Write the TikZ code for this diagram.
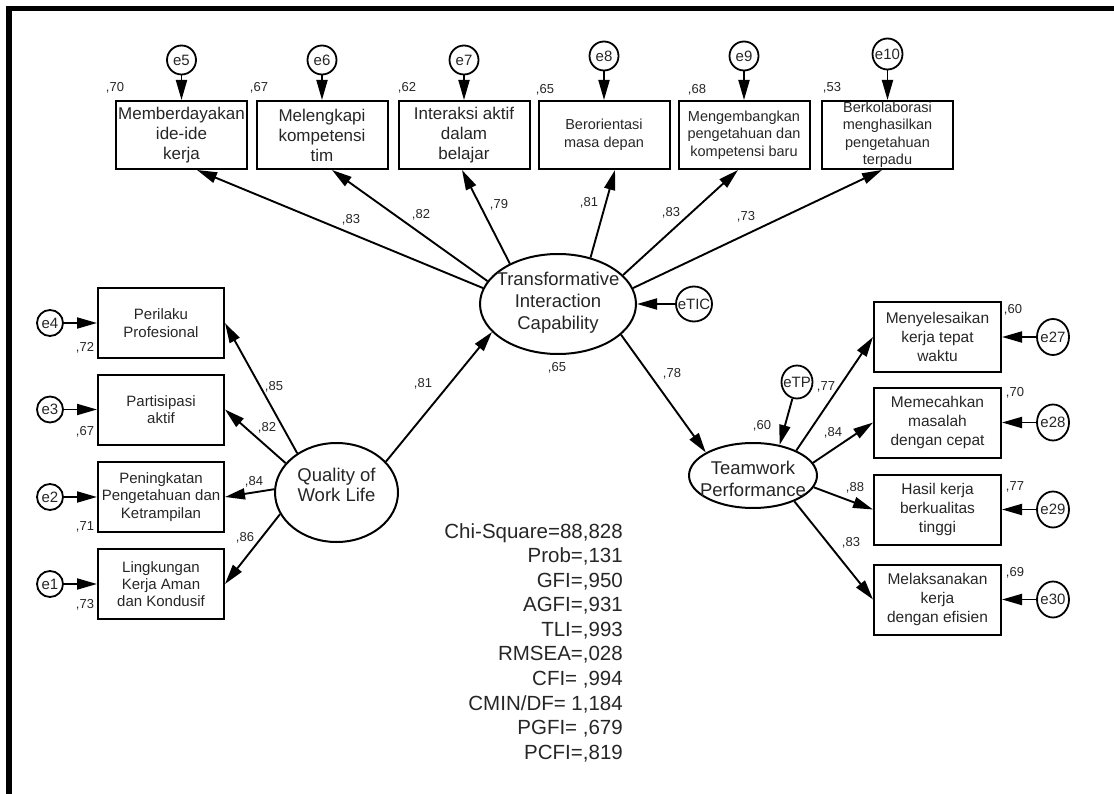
\documentclass[tikz,border=0pt]{standalone}
\usepackage{fontspec}
\setmainfont{Liberation Sans}
\usetikzlibrary{shapes.geometric,arrows.meta}
\definecolor{txt}{HTML}{262626}
\newcommand{\zbox}[1]{\makebox[0pt]{#1}}
\begin{document}
\begin{tikzpicture}[x=1pt,y=-1pt,
  every node/.style={text=txt},
  obs/.style={draw=black, line width=2pt, rectangle, inner sep=0pt, align=center},
  topbox/.style={obs, minimum width=131pt, minimum height=68pt, font=\fontsize{17}{20}\selectfont},
  topboxs/.style={obs, minimum width=131pt, minimum height=68pt, font=\fontsize{14.5}{17.5}\selectfont},
  leftbox/.style={obs, minimum width=126pt, minimum height=70pt, font=\fontsize{15}{17.3}\selectfont},
  rightbox/.style={obs, minimum width=127pt, minimum height=70pt, font=\fontsize{15.5}{19}\selectfont},
  err/.style={ellipse, draw=black, line width=1.8pt, inner sep=0pt, font=\fontsize{15}{17}\selectfont},
  lat/.style={ellipse, draw=black, line width=2pt, inner sep=0pt},
  lattxt/.style={align=center, inner sep=0pt, font=\fontsize{18.5}{22}\selectfont},
  coef/.style={inner sep=0pt, font=\fontsize{13}{15}\selectfont},
  arr/.style={draw=black, line width=1.9pt, -{Triangle[length=20pt,width=11pt]}},
]
\useasboundingbox (0,0) rectangle (1114,794);
% frame
\draw[line width=5.5pt, line join=miter] (9,794) -- (9,8.5) -- (1114,8.5);

% top indicators
\node[topbox]  (B1) at (181.5,135) {Memberdayakan\\ide-ide\\kerja};
\node[topbox]  (B2) at (322,135) {Melengkapi\\kompetensi\\tim};
\node[topbox]  (B3) at (464,135) {Interaksi aktif\\dalam\\belajar};
\node[topboxs] (B4) at (604,135) {Berorientasi\\masa depan};
\node[topboxs] (B5) at (744,135) {Mengembangkan\\pengetahuan dan\\kompetensi baru};
\node[topboxs] (B6) at (887.5,135) {Berkolaborasi\\menghasilkan\\pengetahuan\\terpadu};

\node[err, minimum width=29pt, minimum height=29pt] (e5) at (181.5,60) {\zbox{e5}};
\node[err, minimum width=29pt, minimum height=29pt] (e6) at (322,60) {\zbox{e6}};
\node[err, minimum width=29pt, minimum height=29pt] (e7) at (464,60) {\zbox{e7}};
\node[err, minimum width=29pt, minimum height=29pt] (e8) at (604,56) {\zbox{e8}};
\node[err, minimum width=29pt, minimum height=29pt] (e9) at (744,56) {\zbox{e9}};
\node[err, minimum width=30pt, minimum height=31pt] (e10) at (887.5,54) {\zbox{e10}};
\foreach \e/\b in {e5/B1,e6/B2,e7/B3,e8/B4,e9/B5,e10/B6}
  \draw[arr] (\e) -- (\b.north);

\node[coef] (r5) at (115,88) {,70};
\node[coef] (r6) at (259,88) {,67};
\node[coef] (r7) at (407,88) {,62};
\node[coef] (r8) at (545,90) {,65};
\node[coef] (r9) at (697,90) {,68};
\node[coef] (r10) at (832,88) {,53};

% TIC
\node[lat, minimum width=156pt, minimum height=100pt] (TIC) at (558,304) {};
\node[lattxt] (TICt) at (558,303) {Transformative\\Interaction\\Capability};
\node[err, minimum width=36pt, minimum height=35pt] (eTIC) at (694,304) {\zbox{eTIC}};
\draw[arr] (eTIC) -- (TIC.east);

\draw[arr] (TIC.168)   -- ([xshift=15.5pt]B1.south);
\draw[arr] (TIC.162)   -- ([xshift=10pt]B2.south);
\draw[arr] (TIC.140.5) -- ([xshift=-2pt]B3.south);
\draw[arr] (TIC.55)    -- ([xshift=11pt]B4.south);
\draw[arr] (TIC.24)    -- ([xshift=-6pt]B5.south);
\draw[arr] (TIC.12.5)  -- ([xshift=-5.5pt]B6.south);

\node[coef] (l1) at (351,219.5) {,83};
\node[coef] (l2) at (421,215) {,82};
\node[coef] (l3) at (499,205) {,79};
\node[coef] (l4) at (589,203) {,81};
\node[coef] (l5) at (671,213) {,83};
\node[coef] (l6) at (746,217) {,73};
\node[coef] (rTIC) at (557,368) {,65};

% QWL
\node[lat, minimum width=123pt, minimum height=99pt] (QWL) at (336.5,492.5) {};
\node[lattxt, font=\fontsize{18.5}{20.5}\selectfont] (QWLt) at (336.5,485) {Quality of\\Work Life};

\node[leftbox] (P1) at (161,323) {Perilaku\\Profesional};
\node[leftbox] (P2) at (161,409.5) {Partisipasi\\aktif};
\node[leftbox] (P3) at (161,497) {Peningkatan\\Pengetahuan dan\\Ketrampilan};
\node[leftbox] (P4) at (161,584) {Lingkungan\\Kerja Aman\\dan Kondusif};

\node[err, minimum width=26pt, minimum height=26pt] (e4) at (50,323) {\zbox{e4}};
\node[err, minimum width=26pt, minimum height=26pt] (e3) at (50,409.5) {\zbox{e3}};
\node[err, minimum width=26pt, minimum height=26pt] (e2) at (50,497) {\zbox{e2}};
\node[err, minimum width=26pt, minimum height=26pt] (e1) at (50,584) {\zbox{e1}};
\foreach \e/\b in {e4/P1,e3/P2,e2/P3,e1/P4}
  \draw[arr] (\e) -- (\b.west);

\node[coef] (r4) at (85,348) {,72};
\node[coef] (r3) at (85,432) {,67};
\node[coef] (r2) at (85,527) {,71};
\node[coef] (r1) at (85,605) {,73};

\draw[arr] (QWL.135.7) -- (P1.east);
\draw[arr] (QWL.150)   -- (P2.east);
\draw[arr] (QWL.177)   -- (P3.east);
\draw[arr] (QWL.201.5) -- (P4.east);
\draw[arr] (QWL.32.8)  -- (TIC.203);

\node[coef] (q1) at (274,387) {,85};
\node[coef] (q2) at (267,428) {,82};
\node[coef] (q3) at (254,482) {,84};
\node[coef] (q4) at (245,538) {,86};
\node[coef] (q5) at (423,384) {,81};

% TP
\node[lat, minimum width=128pt, minimum height=65pt] (TP) at (753,475.5) {};
\node[lattxt, font=\fontsize{18.5}{21.5}\selectfont] (TPt) at (753,479) {Teamwork\\Performance};
\node[err, minimum width=31pt, minimum height=33pt] (eTP) at (797,382) {\zbox{eTP}};
\draw[arr] (eTP) -- (TP.49);
\draw[arr] (TIC.334) -- (TP.154);
\node[coef] (t78) at (672,374) {,78};
\node[coef] (rTP) at (762,426) {,60};

\node[rightbox] (R1) at (937.5,337) {Menyelesaikan\\kerja tepat\\waktu};
\node[rightbox] (R2) at (937.5,422.5) {Memecahkan\\masalah\\dengan cepat};
\node[rightbox] (R3) at (937.5,509.5) {Hasil kerja\\berkualitas\\tinggi};
\node[rightbox] (R4) at (937.5,599.5) {Melaksanakan\\kerja\\dengan efisien};

\draw[arr] (TP.30)  -- (R1.west);
\draw[arr] (TP.12.7) -- (R2.west);
\draw[arr] (TP.349) -- (R3.west);
\draw[arr] (TP.328) -- (R4.west);

\node[coef] (p1) at (826,387) {,77};
\node[coef] (p2) at (833,433) {,84};
\node[coef] (p3) at (855,488) {,88};
\node[coef] (p4) at (851,543) {,83};

\node[err, minimum width=32pt, minimum height=36pt] (e27) at (1053,337) {\zbox{e27}};
\node[err, minimum width=32pt, minimum height=36pt] (e28) at (1053,422.5) {\zbox{e28}};
\node[err, minimum width=32pt, minimum height=36pt] (e29) at (1053,509.5) {\zbox{e29}};
\node[err, minimum width=32pt, minimum height=36pt] (e30) at (1053,599.5) {\zbox{e30}};
\foreach \e/\b in {e27/R1,e28/R2,e29/R3,e30/R4}
  \draw[arr] (\e) -- (\b.east);

\node[coef] (r27) at (1013,310) {,60};
\node[coef] (r28) at (1015,393) {,70};
\node[coef] (r29) at (1015,487) {,77};
\node[coef] (r30) at (1015,573) {,69};

% fit statistics
\node[anchor=east, inner sep=0pt, align=right, font=\fontsize{20.5}{24.56}\selectfont] (fit) at (623,642.5)
 {Chi-Square=88,828\\Prob=,131\\GFI=,950\\AGFI=,931\\TLI=,993\\RMSEA=,028\\CFI= ,994\\CMIN/DF= 1,184\\PGFI= ,679\\PCFI=,819};
\end{tikzpicture}
\end{document}
